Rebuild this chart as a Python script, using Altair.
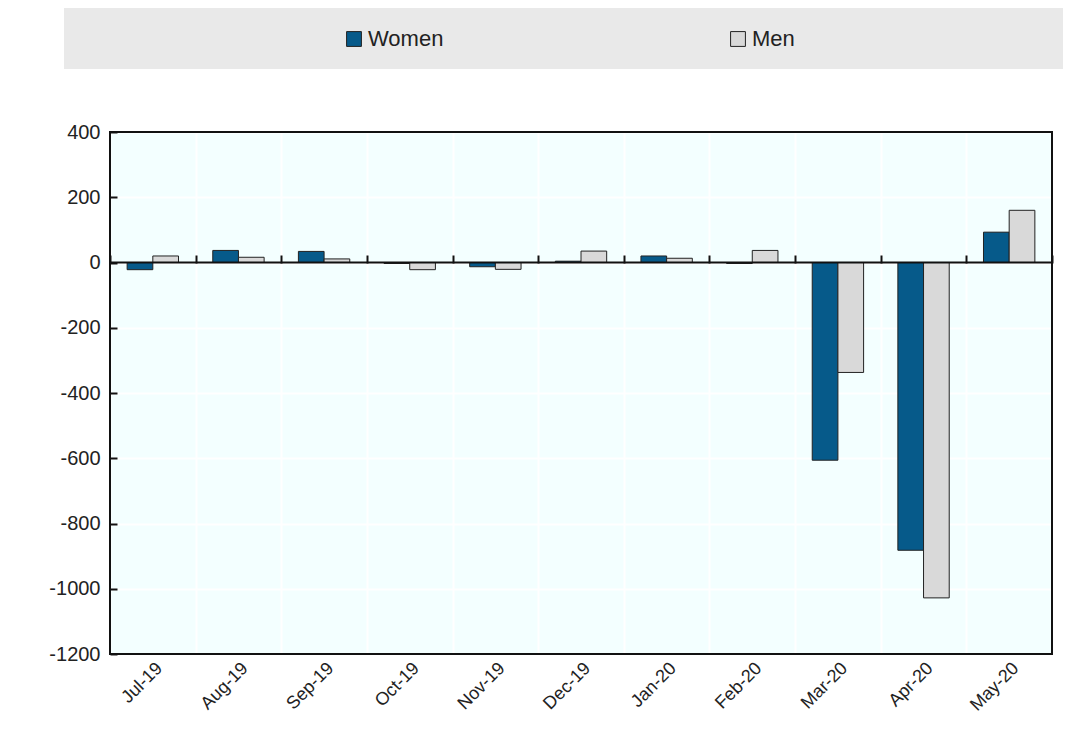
import altair as alt
import pandas as pd

months = ["Jul-19", "Aug-19", "Sep-19", "Oct-19", "Nov-19", "Dec-19",
          "Jan-20", "Feb-20", "Mar-20", "Apr-20", "May-20"]
women = [-22, 37, 34, -3, -13, 4, 20, -3, -606, -882, 93]
men = [20, 16, 11, -22, -21, 35, 13, 37, -337, -1028, 160]
series = ["Women", "Men"]
colors = ["#065a8a", "#d9d9d9"]
y_ticks = [-1200, -1000, -800, -600, -400, -200, 0, 200, 400]

rows = []
for i, m in enumerate(months):
    rows.append({"month": m, "series": "Women", "value": women[i]})
    rows.append({"month": m, "series": "Men", "value": men[i]})
df = pd.DataFrame(rows)

FONT = "Liberation Sans, Arial, sans-serif"

xscale = alt.Scale(domain=months, paddingInner=0, paddingOuter=0)
yscale = alt.Scale(domain=[-1200, 400], nice=False, zero=False)

one = pd.DataFrame({"a": [0]})

legend_box = alt.Chart(one).mark_rect(
    color="#e9e9e9", clip=False
).encode(
    x=alt.value(-46), x2=alt.value(953), y=alt.value(-124), y2=alt.value(-63)
)

bars = alt.Chart(df).mark_bar(stroke="#222222", strokeWidth=1).encode(
    x=alt.X("month:N", sort=months, scale=xscale,
            axis=alt.Axis(title=None, orient="bottom", labelAngle=-45,
                          labelAlign="right", labelBaseline="top",
                          labelFontSize=18, labelFont=FONT, labelColor="#222",
                          labelPadding=5, ticks=False, domain=False,
                          grid=True, gridColor="white", gridWidth=2,
                          tickBand="extent")),
    xOffset=alt.XOffset("series:N", sort=series,
                        scale=alt.Scale(domain=series, paddingInner=0,
                                        paddingOuter=0.667)),
    y=alt.Y("value:Q", scale=yscale,
            axis=alt.Axis(title=None, values=y_ticks, labelFontSize=20,
                          labelFont=FONT, labelColor="#222", labelPadding=10,
                          labelExpr="datum.value + ''",
                          ticks=False, domain=False, grid=True,
                          gridColor="white", gridWidth=2)),
    fill=alt.Fill("series:N", sort=series,
                  scale=alt.Scale(domain=series, range=colors),
                  legend=alt.Legend(title=None, orient="none", legendX=233,
                                    legendY=-104, direction="horizontal",
                                    columns=2, columnPadding=283,
                                    symbolType="square", symbolSize=220,
                                    symbolStrokeColor="#222",
                                    symbolStrokeWidth=1,
                                    labelFontSize=22, labelFont=FONT,
                                    labelColor="#222", labelOffset=3,
                                    padding=0)),
)

zero = alt.Chart(pd.DataFrame({"z": [0]})).mark_rule(
    color="#111", strokeWidth=2
).encode(
    y=alt.Y("z:Q", scale=yscale,
            axis=alt.Axis(title=None, orient="right", offset=-942,
                          values=y_ticks, labels=False, domain=False,
                          grid=False, ticks=True, tickSize=7,
                          tickColor="#111", tickWidth=2)),
)

xticks = alt.Chart(df).mark_bar(opacity=0).encode(
    x=alt.X("month:N", sort=months, scale=xscale,
            axis=alt.Axis(title=None, orient="top", offset=-131,
                          labels=False, domain=False, grid=False,
                          ticks=True, tickSize=8, tickColor="#111",
                          tickWidth=2, tickBand="extent")),
    y=alt.Y("value:Q", scale=yscale, axis=None),
)

frame = alt.Chart(one).mark_rect(
    fill=None, stroke="#111", strokeWidth=2, clip=False
).encode(
    x=alt.value(0), x2=alt.value("width"), y=alt.value(0), y2=alt.value("height")
)

chart = alt.layer(legend_box, bars, xticks, zero, frame).resolve_axis(
    x="independent", y="independent"
).properties(
    width=942, height=522,
    autosize=alt.AutoSizeParams(type="none"),
    padding={"left": 102, "top": 124, "right": 20, "bottom": 70},
    background="white",
).configure_view(
    fill="#f3ffff", stroke=None
)

chart.save("out.html", embed_options={"renderer": "svg", "actions": False})
